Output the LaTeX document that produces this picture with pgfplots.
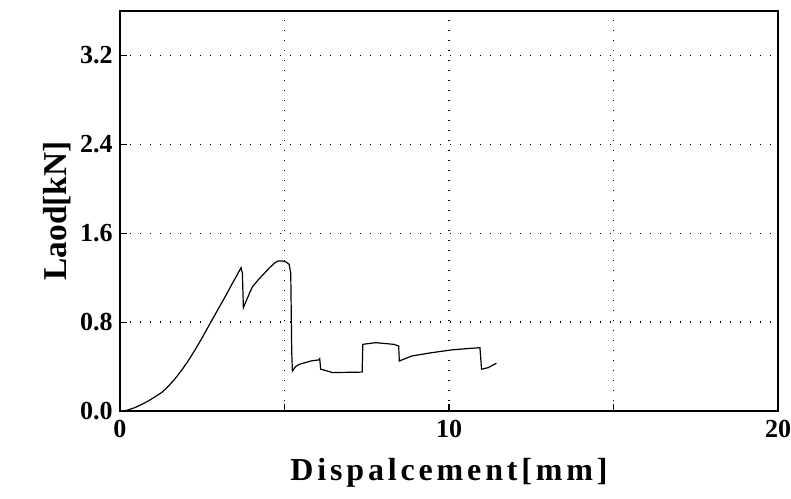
\documentclass[border=0pt]{standalone}
\usepackage{pgfplots}
\pgfplotsset{compat=1.18}
\usepackage{fontspec}
\setmainfont{Liberation Serif}
\begin{document}
\begin{tikzpicture}
\begin{axis}[
  scale only axis,
  width=493.5pt, height=300pt,
  xmin=0, xmax=20, ymin=0, ymax=3.6,
  xtick={0,5,10,15,20},
  xticklabels={0,,10,,20},
  ytick={0,0.8,1.6,2.4,3.2},
  yticklabel style={/pgf/number format/fixed, /pgf/number format/fixed zerofill, /pgf/number format/precision=1, xshift=-2pt},
  /pgf/number format/assume math mode=true,
  ticklabel style={font=\fontsize{19.5}{19.5}\selectfont\bfseries},
  tick align=inside,
  xtick pos=bottom, ytick pos=left,
  major tick length=5pt,
  tick style={black, line width=0.9pt},
  axis line style={black, line width=1.3pt},
  grid=major,
  major grid style={black, line width=1pt, dash pattern=on 1pt off 6.5pt},
  xlabel={\addfontfeatures{LetterSpace=12}Dispalcement[mm]},
  ylabel={Laod[kN]},
  xlabel style={font=\fontsize{24}{24}\selectfont\bfseries, yshift=-9pt},
  ylabel style={font=\fontsize{25}{25}\selectfont\bfseries, yshift=0pt},
  xticklabel style={yshift=-3pt},
]
\addplot[black, line width=0.9pt] coordinates {
(0.1,0) (0.25,0.01) (0.45,0.03) (0.65,0.058) (0.86,0.09) (1.05,0.125) (1.26,0.165) (1.46,0.22) (1.66,0.285)
(1.87,0.365) (2.07,0.45) (2.27,0.545) (2.47,0.645) (2.62,0.725) (2.77,0.805) (2.97,0.91) (3.18,1.02)
(3.4,1.14) (3.55,1.22) (3.68,1.29) (3.72,1.24)
(3.75,0.93) (3.85,1.0) (3.95,1.07) (4.03,1.12) (4.2,1.18) (4.39,1.24) (4.55,1.29) (4.69,1.33) (4.8,1.35) (4.94,1.35)
(5.05,1.34) (5.14,1.32) (5.19,1.24) (5.22,0.525) (5.24,0.36) (5.34,0.40) (5.45,0.42)
(5.8,0.45) (6.05,0.46) (6.07,0.47) (6.10,0.376) (6.3,0.36) (6.45,0.346) (7.36,0.35)
(7.38,0.60) (7.77,0.615) (8.32,0.60) (8.47,0.585) (8.49,0.45) (8.87,0.495) (9.48,0.525)
(10.08,0.55) (10.49,0.56) (10.94,0.57) (10.99,0.376) (11.19,0.39) (11.44,0.43)
};
\end{axis}
\pgfresetboundingbox
\path ([xshift=-90pt,yshift=-65.6pt]current axis.south west) rectangle ([xshift=9.75pt,yshift=8.25pt]current axis.north east);
\end{tikzpicture}
\end{document}
